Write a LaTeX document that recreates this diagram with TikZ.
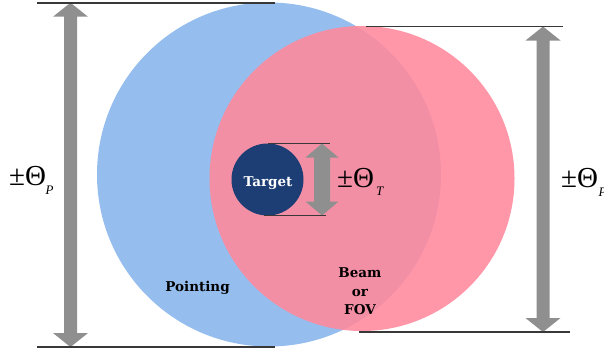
\documentclass[tikz,border=0pt]{standalone}
\usepackage{fontspec}
\setmainfont{Liberation Serif}
\newfontfamily\labfont{DejaVu Serif}
\usetikzlibrary{calc}
\definecolor{bluec}{HTML}{95BDEE}
\definecolor{redc}{HTML}{FF899C}
\definecolor{navy}{HTML}{1C3E75}
\definecolor{agray}{HTML}{8F8F8F}
\definecolor{lgray}{HTML}{383838}
\begin{document}
\begin{tikzpicture}[x=1pt,y=-1pt,
  dimline/.style={draw=lgray, line width=1.7pt},
  dimarr/.style n args={3}{fill=agray, to path={let \p1=(\tikztostart), \p2=(\tikztotarget) in
    (\x1,\y1) -- (\x1+#1,\y1-#2) -- (\x1+#3,\y1-#2) -- (\x1+#3,\y2+#2) -- (\x1+#1,\y2+#2)
    -- (\x2,\y2) -- (\x1-#1,\y2+#2) -- (\x1-#3,\y2+#2) -- (\x1-#3,\y1-#2) -- (\x1-#1,\y1-#2) -- cycle}},
  bigarr/.style={dimarr={17.5pt}{14pt}{6.5pt}},
  smallarr/.style={dimarr={16.5pt}{14pt}{8pt}},
  theta/.style={anchor=base west, inner sep=0pt, font=\fontsize{29}{29}\selectfont},
  subs/.style={anchor=base west, inner sep=0pt, font=\fontsize{13}{13}\selectfont\itshape},
  lab/.style={anchor=base, inner sep=0pt, font=\labfont\bfseries\fontsize{13.5}{13.5}\selectfont}]
\useasboundingbox (0,0) rectangle (604,349);
% circles
\coordinate (bc) at (269,174.5);
\coordinate (rc) at (362,178.5);
\fill[bluec] (bc) circle[radius=172];
\fill[redc, opacity=0.88] (rc) circle[radius=152.5];
\node[circle, fill=navy, minimum size=72pt, inner sep=0pt] (tc) at (267.5,179.5) {};
% dimension line ends
\coordinate (lt1) at (37,2.7);   \coordinate (lt2) at (275,2.7);
\coordinate (lb1) at (37,347);   \coordinate (lb2) at (275,347);
\coordinate (rt1) at (366,26.5); \coordinate (rt2) at (563,26.5);
\coordinate (rb1) at (359,332);  \coordinate (rb2) at (570,332);
\coordinate (tt1) at (268,143.5); \coordinate (tt2) at (330,143.5);
\coordinate (tb1) at (264,215.5); \coordinate (tb2) at (326,215.5);
% arrow tips
\coordinate (la) at (70.5,2.7);  \coordinate (lz) at (70.5,347);
\coordinate (ra) at (543,26.5);  \coordinate (rz) at (543,332);
\coordinate (ta) at (322,143.5); \coordinate (tz) at (322,215.5);
% arrows
\fill[bigarr] (la) to (lz);
\fill[bigarr] (ra) to (rz);
\fill[smallarr] (ta) to (tz);
% lines
\draw[dimline] (lt1) -- (lt2);
\draw[dimline] (lb1) -- (lb2);
\draw[dimline] (rt1) -- (rt2);
\draw[dimline] (rb1) -- (rb2);
\draw[dimline] (tt1) -- (tt2);
\draw[dimline] (tb1) -- (tb2);
% labels
\node[theta] (thl) at (9,185.5) {±Θ};
\node[subs] (thlp) at (45.5,194) {P};
\node[theta] (thr) at (561,187.5) {±Θ};
\node[subs] (thrp) at (598.5,196) {P};
\node[theta] (tht) at (337,187.5) {±Θ};
\node[subs] (thtt) at (376,195.5) {T};
\node[lab, text=white] (target) at (268,186) {Target};
\node[lab] (pointing) at (197.5,291) {Pointing};
\node[lab] (beam) at (360,277.5) {Beam};
\node[lab] (or) at (360,296) {or};
\node[lab] (fov) at (360,314.5) {FOV};
\end{tikzpicture}
\end{document}
